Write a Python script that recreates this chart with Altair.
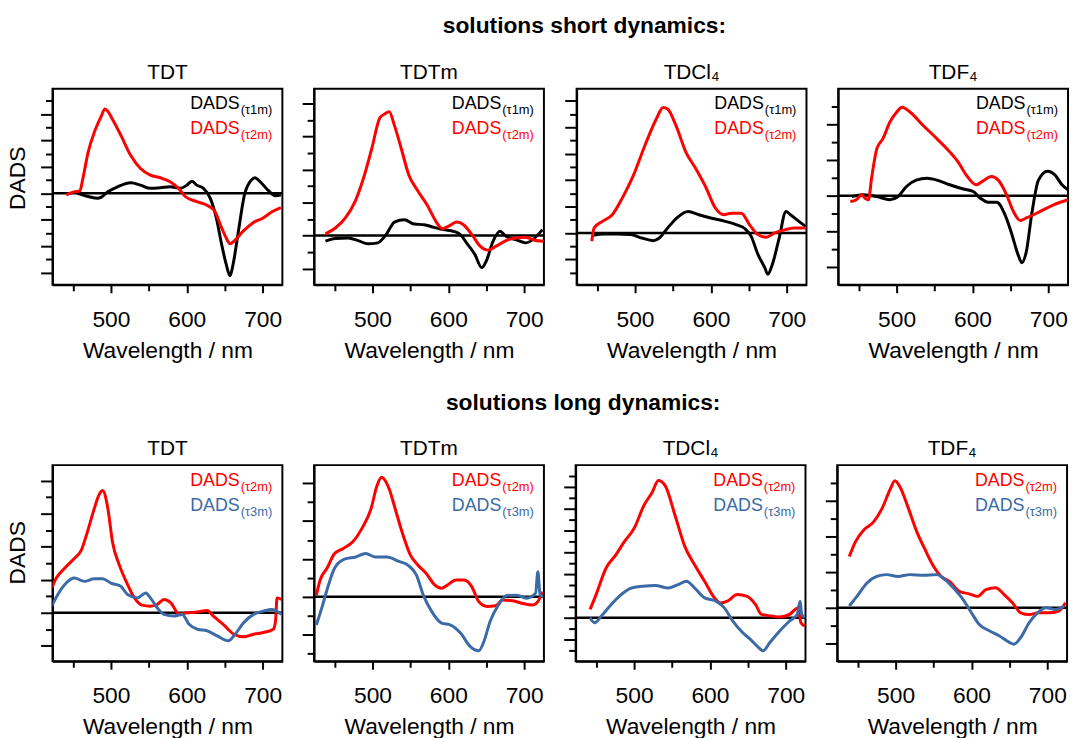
import altair as alt
import pandas as pd

FONT = "Liberation Sans"
RED = "#ff0000"
BLACK = "#000000"
BLUE = "#3b6aa6"

# ---------------- short dynamics ----------------
# TDT
s1_t1_nm = [456, 470, 483, 487, 496, 509, 526, 539, 552, 565, 578, 592, 600, 607, 613, 622, 631, 639, 646, 652, 657, 661, 668, 676, 685, 690, 696, 707, 716, 724]
s1_t1_v = [0, -0.12, -0.19, -0.15, 0.06, 0.25, 0.4, 0.31, 0.19, 0.21, 0.25, 0.19, 0.31, 0.46, 0.31, 0.19, -0.19, -0.94, -1.94, -2.69, -3.12, -2.69, -1.44, -0.06, 0.5, 0.59, 0.46, 0.12, -0.09, -0.06]
s1_t2_nm = [441, 452, 459, 463, 470, 478, 487, 492, 496, 502, 513, 526, 539, 552, 565, 578, 589, 598, 613, 626, 637, 646, 652, 657, 663, 674, 687, 700, 713, 724]
s1_t2_v = [-0.06, 0.06, 0.09, 0.56, 1.56, 2.3, 2.9, 3.19, 3.1, 2.8, 2.2, 1.44, 0.94, 0.69, 0.59, 0.44, 0.19, -0.12, -0.31, -0.44, -0.69, -1.31, -1.69, -1.91, -1.79, -1.44, -1.12, -0.94, -0.69, -0.54]
# TDTm
s2_t1_nm = [438, 451, 468, 481, 494, 507, 518, 529, 542, 555, 568, 581, 594, 607, 616, 624, 635, 644, 650, 659, 668, 676, 689, 702, 715, 724]
s2_t1_v = [-0.17, -0.09, -0.07, -0.15, -0.25, -0.22, 0.03, 0.41, 0.48, 0.35, 0.33, 0.25, 0.18, 0.13, 0.03, -0.22, -0.57, -0.97, -0.77, -0.17, 0.13, -0.02, -0.12, -0.22, -0.05, 0.18]
s2_t2_nm = [438, 451, 464, 477, 488, 499, 510, 516, 522, 529, 538, 548, 559, 572, 585, 592, 600, 611, 620, 631, 642, 652, 663, 676, 689, 702, 715, 726]
s2_t2_v = [0.05, 0.23, 0.53, 1.03, 1.73, 2.63, 3.58, 3.68, 3.75, 3.33, 2.63, 1.83, 1.38, 0.93, 0.38, 0.21, 0.28, 0.41, 0.33, 0.03, -0.32, -0.44, -0.32, -0.15, -0.07, -0.05, -0.15, -0.17]
# TDCl4
s3_t1_nm = [444, 459, 476, 494, 509, 524, 532, 543, 556, 570, 584, 601, 619, 634, 645, 653, 662, 671, 675, 681, 690, 699, 705, 716, 725]
s3_t1_v = [-0.09, -0.04, -0.04, -0.06, -0.19, -0.29, -0.19, 0.19, 0.59, 0.81, 0.69, 0.56, 0.44, 0.31, 0.16, -0.12, -0.81, -1.31, -1.56, -1.19, -0.19, 0.81, 0.69, 0.44, 0.25]
s3_t2_nm = [443, 446, 457, 470, 483, 498, 513, 528, 537, 543, 554, 567, 580, 593, 606, 617, 627, 640, 651, 662, 673, 684, 697, 710, 725]
s3_t2_v = [-0.31, 0.19, 0.44, 0.69, 1.31, 2.19, 3.31, 4.31, 4.75, 4.69, 4.06, 3.06, 2.44, 1.75, 0.94, 0.69, 0.75, 0.75, 0.31, -0.06, -0.16, 0, 0.12, 0.19, 0.19]
# TDF4
s4_t1_nm = [441, 456, 474, 491, 502, 513, 526, 540, 553, 570, 588, 601, 610, 621, 632, 643, 652, 660, 665, 671, 678, 687, 699, 709, 718, 726]
s4_t1_v = [-0.02, 0.03, -0.02, -0.11, -0.02, 0.26, 0.44, 0.49, 0.44, 0.31, 0.19, 0.12, -0.06, -0.18, -0.18, -0.53, -1.08, -1.64, -1.87, -1.56, -0.53, 0.44, 0.69, 0.58, 0.31, 0.17]
s4_t2_nm = [439, 447, 454, 458, 463, 467, 474, 482, 491, 500, 507, 518, 535, 553, 570, 581, 592, 605, 614, 625, 634, 645, 654, 663, 671, 689, 707, 726]
s4_t2_v = [-0.16, -0.11, 0.03, -0.06, -0.11, 0.49, 1.32, 1.6, 2.06, 2.34, 2.48, 2.34, 1.97, 1.6, 1.23, 0.95, 0.58, 0.31, 0.42, 0.54, 0.44, 0.03, -0.44, -0.69, -0.62, -0.44, -0.25, -0.11]

# ---------------- long dynamics ----------------
# TDT
l1_t2_nm = [422, 428, 439, 452, 461, 469, 478, 485, 489, 496, 502, 511, 520, 531, 541, 552, 561, 570, 579, 590, 600, 614, 627, 635, 648, 662, 675, 688, 701, 714, 717, 719, 725]
l1_t2_v = [0.75, 1.05, 1.35, 1.65, 1.9, 2.45, 3.15, 3.6, 3.7, 3.15, 2.15, 1.45, 0.95, 0.45, 0.23, 0.2, 0.25, 0.4, 0.3, -0.05, 0, 0.02, 0.07, -0.1, -0.35, -0.65, -0.73, -0.65, -0.6, -0.5, -0.25, 0.45, 0.4]
l1_t3_nm = [422, 430, 441, 452, 465, 478, 489, 500, 513, 522, 535, 546, 552, 561, 570, 583, 594, 603, 614, 627, 640, 655, 662, 675, 688, 701, 712, 725]
l1_t3_v = [0.2, 0.55, 0.9, 1.05, 0.95, 1.03, 1.03, 0.9, 0.8, 0.55, 0.45, 0.6, 0.45, 0.15, -0.05, -0.1, -0.05, -0.35, -0.5, -0.55, -0.7, -0.85, -0.7, -0.3, -0.05, 0.05, 0.1, -0.05]
# TDTm
l2_t2_nm = [426, 431, 440, 450, 461, 474, 487, 498, 506, 512, 522, 530, 539, 550, 560, 571, 582, 591, 599, 610, 621, 631, 640, 651, 662, 672, 685, 698, 711, 718, 724]
l2_t2_v = [0.04, 0.44, 0.75, 1.14, 1.27, 1.45, 1.84, 2.32, 2.94, 3.16, 2.85, 2.32, 1.71, 1.1, 0.83, 0.61, 0.31, 0.22, 0.31, 0.44, 0.44, 0.26, -0.13, -0.26, -0.24, -0.09, -0.11, -0.18, -0.22, -0.13, 0.13]
l2_t3_nm = [426, 433, 442, 450, 463, 478, 491, 504, 519, 534, 547, 558, 567, 578, 591, 603, 616, 629, 640, 647, 655, 666, 677, 690, 703, 715, 718, 721, 725]
l2_t3_v = [-0.75, -0.31, 0.31, 0.75, 0.99, 1.05, 1.14, 1.05, 1.05, 0.94, 0.83, 0.57, 0.04, -0.39, -0.7, -0.75, -0.96, -1.32, -1.43, -1.18, -0.66, -0.22, 0.03, 0.04, -0.04, 0.09, 0.66, 0.04, 0]
# TDCl4
l3_t2_nm = [442, 450, 463, 476, 487, 500, 513, 524, 532, 541, 554, 567, 580, 593, 606, 614, 623, 636, 649, 660, 668, 681, 692, 705, 716, 720, 725]
l3_t2_v = [0.38, 1.06, 2.27, 2.88, 3.48, 4.09, 5.15, 5.76, 6.29, 6.06, 4.7, 3.26, 2.42, 1.67, 0.91, 0.68, 0.76, 1.06, 0.98, 0.61, 0.15, 0.08, 0.03, 0.15, 0.45, -0.23, -0.38]
l3_t3_nm = [442, 448, 457, 470, 483, 496, 511, 528, 545, 558, 569, 580, 593, 608, 619, 630, 643, 653, 664, 670, 679, 692, 705, 715, 719, 721, 725]
l3_t3_v = [0, -0.23, 0.08, 0.61, 1.06, 1.36, 1.44, 1.48, 1.36, 1.52, 1.67, 1.36, 0.91, 0.76, 0.45, -0.15, -0.68, -0.98, -1.36, -1.52, -1.14, -0.61, -0.15, 0.15, 0.76, 0.15, 0]
# TDF4
l4_t2_nm = [439, 447, 458, 471, 482, 493, 499, 506, 517, 528, 538, 549, 560, 571, 584, 597, 608, 619, 632, 643, 654, 665, 676, 689, 702, 715, 724]
l4_t2_v = [1.44, 1.85, 2.18, 2.41, 2.78, 3.33, 3.56, 3.38, 2.78, 2.13, 1.67, 1.2, 0.88, 0.74, 0.46, 0.39, 0.32, 0.51, 0.56, 0.37, 0.14, -0.14, -0.19, -0.14, -0.14, -0.09, 0.14]
l4_t3_nm = [439, 449, 462, 475, 488, 503, 519, 536, 554, 565, 576, 589, 600, 610, 624, 637, 650, 656, 665, 676, 687, 698, 711, 722]
l4_t3_v = [0.05, 0.32, 0.69, 0.88, 0.93, 0.88, 0.93, 0.91, 0.93, 0.79, 0.56, 0.23, -0.14, -0.46, -0.65, -0.79, -0.97, -1.02, -0.83, -0.42, -0.14, 0, -0.05, 0.05]

titles = ["TDT", "TDTm", "TDCl\u2084", "TDF\u2084"]
x_major = [500, 600, 700]
x_minor = [450, 550, 650]
x_domain = [423, 726]

short_y_domains = [[-3.46, 3.96], [-1.49, 4.45], [-1.96, 5.46], [-2.49, 3.0]]
long_y_domains = [[-1.47, 4.47], [-1.71, 3.48], [-2.0, 7.0], [-1.5, 4.0]]
short_y_major = [[-3, -2, -1, 0, 1, 2, 3], [-1, 0, 1, 2, 3, 4], [-1, 0, 1, 2, 3, 4, 5], [-2, -1, 0, 1, 2]]
short_y_minor = [[-2.5, -1.5, -0.5, 0.5, 1.5, 2.5, 3.5], [-0.5, 0.5, 1.5, 2.5, 3.5],
                 [-1.5, -0.5, 0.5, 1.5, 2.5, 3.5, 4.5], [-1.5, -0.5, 0.5, 1.5, 2.5]]
long_y_major = [[-1, 0, 1, 2, 3, 4], [-1, 0, 1, 2, 3], [-1, 0, 1, 2, 3, 4, 5, 6], [-1, 0, 1, 2, 3]]
long_y_minor = [[-0.5, 0.5, 1.5, 2.5, 3.5], [-1.5, -0.5, 0.5, 1.5, 2.5],
                [-1.5, -0.5, 0.5, 1.5, 2.5, 3.5, 4.5, 5.5, 6.5], [-0.5, 0.5, 1.5, 2.5, 3.5]]

short_series = [
    [("\u03c41m", s1_t1_nm, s1_t1_v), ("\u03c42m", s1_t2_nm, s1_t2_v)],
    [("\u03c41m", s2_t1_nm, s2_t1_v), ("\u03c42m", s2_t2_nm, s2_t2_v)],
    [("\u03c41m", s3_t1_nm, s3_t1_v), ("\u03c42m", s3_t2_nm, s3_t2_v)],
    [("\u03c41m", s4_t1_nm, s4_t1_v), ("\u03c42m", s4_t2_nm, s4_t2_v)],
]
long_series = [
    [("\u03c42m", l1_t2_nm, l1_t2_v), ("\u03c43m", l1_t3_nm, l1_t3_v)],
    [("\u03c42m", l2_t2_nm, l2_t2_v), ("\u03c43m", l2_t3_nm, l2_t3_v)],
    [("\u03c42m", l3_t2_nm, l3_t2_v), ("\u03c43m", l3_t3_nm, l3_t3_v)],
    [("\u03c42m", l4_t2_nm, l4_t2_v), ("\u03c43m", l4_t3_nm, l4_t3_v)],
]
series_names = ["\u03c41m", "\u03c42m", "\u03c43m"]
series_colors = [BLACK, RED, BLUE]
color_of = dict(zip(series_names, series_colors))

W, H = 232, 198
one_row = pd.DataFrame({"k": [0]})


def panel(series, ydom, ymajor, yminor, title, first, title_y):
    rows = []
    for name, nms, vals in series:
        for a, b in zip(nms, vals):
            rows.append({"nm": a, "val": b, "s": name})
    df = pd.DataFrame(rows)
    names = [s[0] for s in series]
    yscale = alt.Scale(domain=ydom, nice=False, zero=False)
    xscale = alt.Scale(domain=x_domain, nice=False, zero=False)
    major_axis = alt.Axis(values=ymajor, labels=False, tickSize=12, orient="left",
                          title="DADS" if first else None, titlePadding=10, titleY=title_y)
    minor_axis = alt.Axis(values=yminor, labels=False, tickSize=7, orient="left", title=None, domain=False)
    x_major_axis = alt.Axis(values=x_major, title="Wavelength / nm", tickSize=8, labelPadding=16,
                            titlePadding=8, orient="bottom")
    x_minor_axis = alt.Axis(values=x_minor, labels=False, tickSize=6, title=None, domain=False, orient="bottom")
    base = alt.Chart(df)
    ghost = base.mark_point(opacity=0).encode(
        x=alt.X("nm:Q", scale=xscale, axis=x_minor_axis),
        y=alt.Y("val:Q", scale=yscale, axis=minor_axis),
    )
    lines = base.mark_line(strokeWidth=3, clip=True, interpolate="monotone").encode(
        x=alt.X("nm:Q", scale=xscale, axis=x_major_axis),
        y=alt.Y("val:Q", scale=yscale, axis=major_axis),
        color=alt.Color("s:N", scale=alt.Scale(domain=series_names, range=series_colors), legend=None),
        detail="s:N",
    )
    zero = alt.Chart(one_row).mark_rule(color="black", strokeWidth=2.5).encode(
        y=alt.YDatum(0, axis=None)
    )
    layers = [ghost, zero, lines]
    for i, n in enumerate(names):
        yb = 21 + i * 25
        layers.append(
            alt.Chart(one_row).mark_text(text="DADS", font=FONT, fontSize=18, align="right",
                                         baseline="alphabetic", color=color_of[n]
                                         ).encode(x=alt.value(W - 43), y=alt.value(yb))
        )
        layers.append(
            alt.Chart(one_row).mark_text(text="(" + n + ")", font=FONT, fontSize=13, align="left",
                                         baseline="alphabetic", color=color_of[n]
                                         ).encode(x=alt.value(W - 42), y=alt.value(yb + 5))
        )
    return alt.layer(*layers).resolve_axis(y="independent", x="independent").properties(
        width=W, height=H,
        title=alt.TitleParams(text=title, fontSize=21, font=FONT, fontWeight="normal", offset=6),
    )


def row(series_list, doms, majors, minors, label, ty):
    return alt.hconcat(
        *[panel(series_list[i], doms[i], majors[i], minors[i], titles[i], i == 0, ty) for i in range(4)],
        spacing=15,
        title=alt.TitleParams(text=label, fontSize=23, font=FONT, fontWeight="bold",
                              anchor="middle", dx=46, offset=23),
    )


row1 = row(short_series, short_y_domains, short_y_major, short_y_minor, "solutions short dynamics:", 90)
row2 = row(long_series, long_y_domains, long_y_major, long_y_minor, "solutions long dynamics:", 88)

chart = alt.vconcat(row1, row2, spacing=29).properties(
    padding={"left": 6, "top": 12, "right": 0, "bottom": 0},
    background="white",
).configure_view(stroke="black", strokeWidth=2).configure_axis(
    grid=False, domainColor="black", domainWidth=2, tickColor="black", tickWidth=2,
    labelFont=FONT, labelFontSize=23, labelColor="black",
    titleFont=FONT, titleFontSize=23, titleFontWeight="normal", titleColor="black",
).configure_title(color="black")

chart.save("out.html", embed_options={"renderer": "svg", "actions": False})
